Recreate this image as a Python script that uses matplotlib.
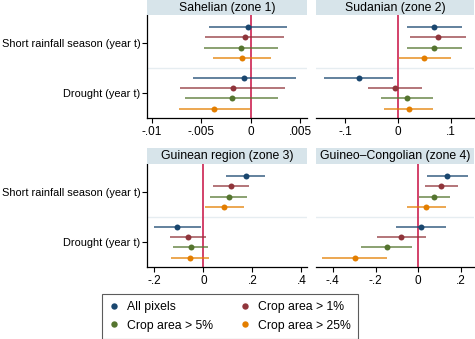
import matplotlib
matplotlib.use('Agg')
import matplotlib.pyplot as plt
from matplotlib.patches import Rectangle
from matplotlib.lines import Line2D

plt.rcParams['font.family'] = ['Liberation Sans', 'DejaVu Sans']

W, H = 475, 339

zones = ['Sahelian (zone 1)', 'Sudanian (zone 2)',
         'Guinean region (zone 3)', 'Guineo\u2013Congolian (zone 4)']
categories = ['Short rainfall season (year t)', 'Drought (year t)']
series = ['All pixels', 'Crop area > 1%', 'Crop area > 5%', 'Crop area > 25%']
colors = ['#1a476f', '#90353b', '#55752f', '#e37e00']

# coefficients: [category][series]
z1_coef = [[-0.00024, -0.0006, -0.00095, -0.00084],
           [-0.0007, -0.0018, -0.0019, -0.0037]]
z1_lo = [[-0.0042, -0.0046, -0.0047, -0.0038],
         [-0.0059, -0.0072, -0.0067, -0.0073]]
z1_hi = [[0.0037, 0.0034, 0.0028, 0.0021],
         [0.0046, 0.0035, 0.0028, -0.0001]]

z2_coef = [[0.069, 0.076, 0.068, 0.050],
           [-0.074, -0.0055, 0.017, 0.020]]
z2_lo = [[0.017, 0.023, 0.017, 0.002],
         [-0.140, -0.057, -0.033, -0.026]]
z2_hi = [[0.121, 0.129, 0.121, 0.100],
         [-0.009, 0.046, 0.066, 0.066]]

z3_coef = [[0.173, 0.112, 0.103, 0.086],
           [-0.106, -0.063, -0.052, -0.054]]
z3_lo = [[0.094, 0.039, 0.027, 0.005],
         [-0.200, -0.137, -0.125, -0.132]]
z3_hi = [[0.250, 0.185, 0.180, 0.166],
         [-0.011, 0.011, 0.019, 0.024]]

z4_coef = [[0.134, 0.108, 0.073, 0.038],
           [0.014, -0.081, -0.148, -0.295]]
z4_lo = [[0.041, 0.033, 0.003, -0.053],
         [-0.102, -0.195, -0.267, -0.450]]
z4_hi = [[0.231, 0.184, 0.148, 0.128],
         [0.128, 0.034, -0.027, -0.144]]

z1_ticks = [-0.01, -0.005, 0, 0.005]
z1_labels = ['-.01', '-.005', '0', '.005']
z2_ticks = [-0.1, 0, 0.1]
z2_labels = ['-.1', '0', '.1']
z3_ticks = [-0.2, 0, 0.2, 0.4]
z3_labels = ['-.2', '0', '.2', '.4']
z4_ticks = [-0.4, -0.2, 0, 0.2]
z4_labels = ['-.4', '-.2', '0', '.2']

panels = [
    (z1_coef, z1_lo, z1_hi, z1_ticks, z1_labels, (-0.01052, 0.00571)),
    (z2_coef, z2_lo, z2_hi, z2_ticks, z2_labels, (-0.156, 0.144)),
    (z3_coef, z3_lo, z3_hi, z3_ticks, z3_labels, (-0.2298, 0.423)),
    (z4_coef, z4_lo, z4_hi, z4_ticks, z4_labels, (-0.48, 0.261)),
]

# pixel boxes: (x0, x1, strip_top, axes_top, axes_bottom)
boxes = [
    (147, 307, 0, 15.3, 118),
    (315.7, 474, 0, 15.3, 118),
    (147, 307, 148.3, 164.3, 267),
    (315.7, 474, 148.3, 164.3, 267),
]

offsets = [-0.31, -0.10, 0.10, 0.31]

fig = plt.figure(figsize=(W / 100, H / 100), dpi=100)
fig.patch.set_facecolor('white')

for i, ((coef, lo, hi, ticks, labels, xl), (x0, x1, st, at, ab)) in enumerate(zip(panels, boxes)):
    ax = fig.add_axes([x0 / W, 1 - ab / H, (x1 - x0) / W, (ab - at) / H])
    # title strip
    fig.patches.append(Rectangle((x0 / W, 1 - at / H), (x1 - x0) / W, (at - st) / H,
                                 transform=fig.transFigure, facecolor='#d7e4ea',
                                 edgecolor='none', zorder=0))
    fig.text((x0 + x1) / 2 / W, 1 - (st + at) / 2 / H, zones[i], ha='center', va='center',
             fontsize=8.8, color='black')
    ax.axhline(1.5, color='#e6edf1', lw=1.0, zorder=0)
    ax.axvline(0, color='#d0335e', lw=1.3, zorder=1)
    for c in range(2):
        for s in range(4):
            y = c + 1 + offsets[s]
            ax.plot([lo[c][s], hi[c][s]], [y, y], color=colors[s], lw=1.2, alpha=0.8,
                    solid_capstyle='butt', zorder=2)
            ax.plot([coef[c][s]], [y], 'o', color=colors[s], ms=4.3, mec='none', zorder=3)
    ax.set_xlim(*xl)
    ax.set_ylim(2.484, 0.465)
    ax.set_xticks(ticks)
    ax.set_xticklabels(labels)
    ax.tick_params(axis='x', length=3.6, width=0.8, labelsize=8.5, pad=2, color='black')
    for sp in ['top', 'right']:
        ax.spines[sp].set_visible(False)
    ax.spines['bottom'].set_linewidth(0.9)
    if i % 2 == 0:
        ax.set_yticks([1, 2])
        ax.set_yticklabels(categories)
        ax.tick_params(axis='y', length=3.6, width=0.8, labelsize=7.9, pad=1)
        ax.spines['left'].set_linewidth(0.9)
    else:
        ax.set_yticks([])
        ax.spines['left'].set_visible(False)
    ax.set_facecolor('white')

order = [0, 2, 1, 3]
handles = [Line2D([], [], marker='o', ls='none', color=colors[k], ms=4.6, mec='none') for k in order]
leg = fig.legend(handles, [series[k] for k in order], ncol=2, loc='center',
                 bbox_to_anchor=(230.4 / W, 1 - 316.5 / H), fontsize=8.8,
                 frameon=True, fancybox=False, edgecolor='#333333',
                 handlelength=0.7, handletextpad=0.7, columnspacing=2.3,
                 borderpad=0.6, labelspacing=0.5)
leg.get_frame().set_linewidth(0.8)

fig.savefig('out.png', dpi=100, facecolor='white')
